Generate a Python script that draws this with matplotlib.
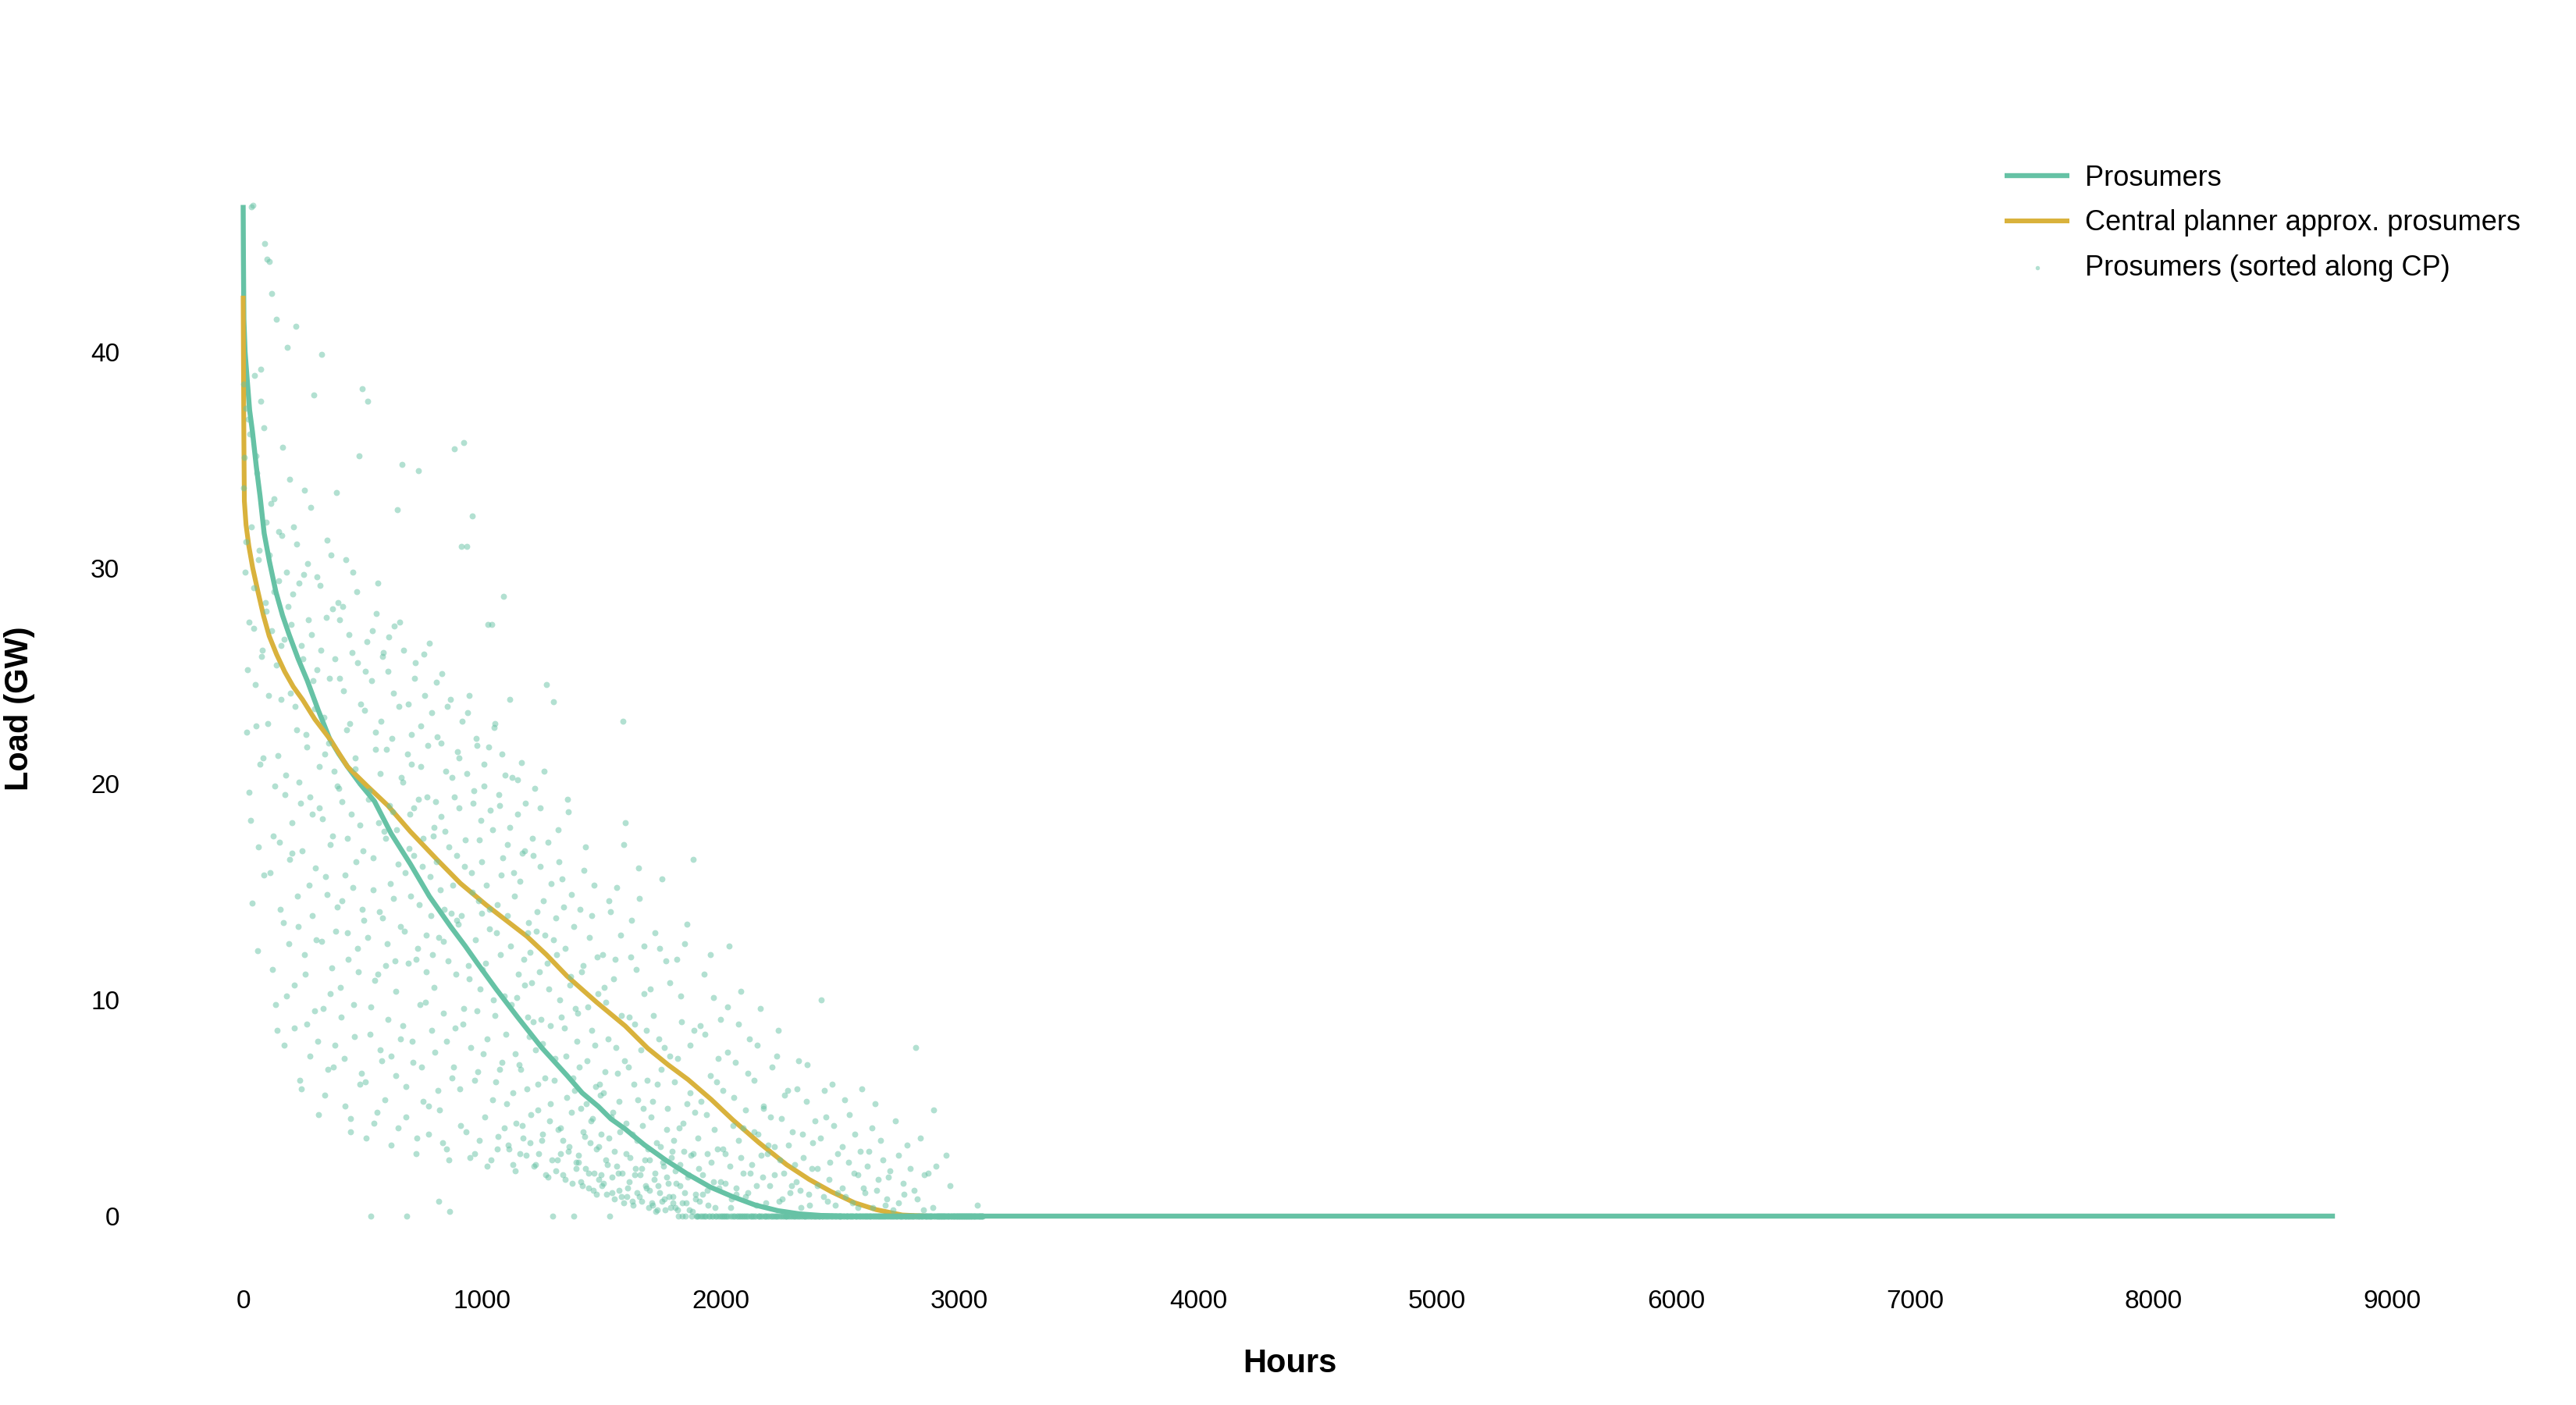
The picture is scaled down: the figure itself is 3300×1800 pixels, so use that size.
import numpy as np
import matplotlib
matplotlib.use("Agg")
import matplotlib.pyplot as plt

plt.rcParams['font.family'] = ['Liberation Sans', 'DejaVu Sans']

# ---------------- data ----------------
# Prosumers load duration curve (hours, GW)
pros_hours = [0, 1, 3, 8, 17, 27, 39, 55, 71, 88, 110, 137, 165, 193, 230, 268, 315, 362, 400,
              437, 490, 550, 620, 700, 780, 869, 930, 981, 1060, 1150, 1250, 1357, 1420, 1488,
              1540, 1600, 1680, 1770, 1860, 1957, 2050, 2145, 2240, 2332, 2420, 2520, 8760]
pros_load = [46.8, 44.5, 41.5, 40.0, 38.7, 37.3, 36.3, 34.7, 33.3, 31.6, 30.3, 28.9, 27.8, 26.9,
             25.8, 24.8, 23.4, 22.1, 21.4, 20.8, 20.0, 19.2, 17.7, 16.3, 14.8, 13.4, 12.5, 11.7,
             10.5, 9.2, 7.8, 6.5, 5.7, 5.07, 4.5, 4.03, 3.3, 2.59, 1.95, 1.34, 0.9, 0.51, 0.25,
             0.1, 0.03, 0.0, 0.0]

# Central planner approximation of prosumers (hours, GW)
cp_hours = [0, 3, 5, 12, 24, 40, 62, 85, 109, 140, 174, 210, 249, 300, 362, 437, 520, 606, 700,
            812, 910, 1018, 1100, 1188, 1270, 1357, 1480, 1600, 1694, 1780, 1863, 1960, 2051,
            2160, 2276, 2370, 2463, 2560, 2651, 2760, 2860]
cp_load = [42.6, 36.0, 33.1, 32.0, 31.0, 30.0, 28.9, 27.8, 26.85, 26.0, 25.2, 24.5, 23.9, 23.0,
           22.1, 20.8, 19.9, 19.0, 17.8, 16.5, 15.4, 14.4, 13.7, 12.95, 12.1, 11.1, 9.9, 8.8,
           7.77, 7.0, 6.32, 5.4, 4.45, 3.4, 2.38, 1.7, 1.13, 0.62, 0.3, 0.05, 0.0]

# Prosumer load (GW) along the CP ordering, sampled every 5th hour (hours 0, 5, 10, ...)
scatter_step = 5
scatter_load_a = [
    38.5, 35.1, 31.2, 22.4, 36.9, 27.5, 18.3, 46.7, 46.8, 29.1, 24.6, 35.2, 12.3, 30.4, 20.9, 37.7, 26.2, 15.8, 45.0, 28.0,
    44.3, 24.1, 44.2, 33.0, 42.7, 17.6, 28.9, 9.8, 41.5, 21.3, 31.7, 14.2, 26.4, 35.6, 7.9, 19.5, 29.8, 40.2, 12.6, 34.1,
    27.4, 16.8, 31.9, 8.7, 41.2, 22.5, 13.4, 29.3, 19.1, 5.9, 25.8, 33.6, 11.2, 21.7, 30.2, 15.3, 7.4, 26.9, 18.6, 38.0,
    23.5, 12.8, 29.6, 4.7, 18.9, 26.2, 39.9, 9.6, 21.4, 15.7, 31.3, 6.8, 24.9, 17.2, 11.5, 28.1, 20.6, 7.9, 33.5, 14.3,
    19.8, 27.6, 9.2, 14.6, 24.3, 5.1, 30.4, 17.5, 11.9, 22.8, 3.9, 26.1, 15.2, 8.3, 20.7, 28.9, 12.4, 35.2, 18.1, 6.6,
    38.3, 13.7, 25.2, 3.6, 37.7, 19.3, 8.4, 0.0, 27.1, 16.6, 10.9, 22.4, 4.8, 29.3, 14.1, 20.5, 7.2, 25.9, 17.8, 11.6,
    21.6, 9.1, 26.8, 15.4, 3.3, 18.7, 24.2, 11.8, 6.5, 32.7, 16.3, 27.5, 8.2, 34.8, 20.1, 13.2, 4.6, 0.0, 23.7, 17.0,
    14.8, 22.3, 7.1, 18.9, 25.6, 2.9, 12.4, 34.5, 9.8, 20.8, 16.2, 5.3, 24.1, 11.3, 19.4, 3.8, 26.5, 13.9, 8.6, 17.6,
    10.6, 19.2, 24.7, 5.8, 0.7, 15.1, 21.9, 3.4, 12.7, 17.8, 8.1, 23.6, 2.6, 0.2, 14.0, 20.3, 6.9, 35.5, 11.2, 16.7,
    13.5, 21.2, 4.2, 31.0, 8.9, 35.8, 17.4, 31.0, 23.3, 11.0, 2.7, 15.9, 32.4, 19.7, 6.3, 22.1, 9.5, 14.6, 3.5, 18.3,
    16.4, 7.5, 20.9, 11.7, 2.3, 27.4, 14.2, 18.8, 27.4, 5.4, 22.6, 9.3, 13.1, 3.1, 19.5, 6.8, 15.8, 21.4, 28.7, 10.2,
    8.4, 17.2, 3.3, 23.9, 12.5, 20.3, 5.7, 14.8, 2.1, 10.1, 18.6, 7.0, 15.5, 21.0, 4.2, 11.9, 16.9, 2.8, 9.2, 13.6,
    12.2, 4.7, 17.5, 9.0, 19.8, 2.4, 14.1, 6.1, 11.3, 16.2, 3.5, 8.0, 20.6, 13.0, 24.6, 1.8, 10.5, 5.2, 15.4, 0.0,
    23.8, 7.3, 13.8, 2.6, 17.9, 10.0, 4.1, 15.6, 1.9, 8.7, 12.4, 5.5, 18.7, 3.2, 11.1, 14.9, 6.4, 0.0, 9.6, 2.2,
    9.4, 2.5, 14.2, 5.0, 1.4, 11.6, 3.7, 17.1, 7.2, 2.0, 12.9, 4.4, 8.6, 1.2, 15.3, 6.0, 3.1, 10.3, 1.7, 5.6,
    3.8, 12.1, 1.5, 6.7, 9.9, 2.4, 14.6, 0.0, 4.6, 1.1, 11.0, 3.0, 7.8, 15.2, 2.0, 5.3, 13.0, 0.9, 22.9, 17.2,
    18.2, 4.3, 1.3, 9.2, 2.7, 13.7, 0.7, 6.1, 1.9, 11.4, 3.5, 16.1, 0.9, 7.7, 2.2, 5.0, 12.5, 1.4, 8.6, 3.1,
    2.6, 10.5, 0.6, 5.3, 1.7, 13.1, 3.4, 0.3, 8.2, 1.1, 6.8, 15.6, 2.3, 0.8, 11.8, 4.0, 1.5, 7.4, 0.4, 3.0,
    0.9, 6.2, 2.1, 11.9, 0.3, 4.1, 1.4, 9.0, 0.0, 3.0, 12.6, 0.6, 5.2, 1.9, 7.9, 2.8, 0.2, 16.5, 4.8, 1.0,
    0.0, 3.6, 0.7, 8.8, 0.0, 1.9, 11.2, 0.0, 4.7, 1.2, 0.0, 6.5, 2.5, 0.0, 10.1, 0.4, 0.0, 3.1, 7.3, 0.0,
    1.6, 0.0, 5.8, 0.0, 2.9, 0.0, 9.7, 12.5, 0.0, 0.8, 4.2, 0.0, 7.1, 1.3, 0.0, 3.5, 0.0, 10.4, 0.0, 2.0,
    0.0, 4.9, 0.0, 1.1, 8.2, 0.0, 2.4, 0.0, 6.3, 0.0, 0.5, 3.8, 0.0, 9.6, 0.0, 1.8, 5.1, 0.0, 0.0, 2.9,
    0.0, 1.4, 0.0, 6.9, 0.0, 3.2, 0.0, 0.0, 8.6, 0.7, 0.0, 4.5, 0.0, 2.0, 0.0, 0.0, 5.8, 0.0, 1.1, 0.0,
    3.9, 0.0, 0.0, 1.6, 0.0, 7.2, 0.0, 0.4, 0.0, 2.7, 0.0, 0.0, 5.3, 0.0, 1.0, 0.0, 0.0, 3.4, 0.0, 0.0,
    0.0, 2.2, 0.0, 0.0, 10.0, 0.0, 0.9, 0.0, 4.6, 0.0, 0.0, 1.7, 0.0, 6.1, 0.0, 0.0, 0.5, 0.0, 2.9, 0.0,
    0.0, 0.0, 1.3, 0.0, 5.4, 0.0, 0.0, 2.5, 0.0, 0.0, 0.6, 0.0, 3.8, 0.0, 0.0, 1.9, 0.0, 0.0, 5.9, 0.0,
    0.0, 1.1, 0.0, 0.0, 3.0, 0.0, 0.0, 0.4, 0.0, 5.2, 0.0, 0.0, 1.7, 0.0, 0.0, 0.0, 2.6, 0.0, 0.0, 0.8,
    0.0, 0.0, 2.1, 0.0, 0.0, 0.0, 4.4, 0.0, 0.0, 0.6, 0.0, 0.0, 0.0, 1.5, 0.0, 0.0, 3.3, 0.0, 0.0, 0.0,
    0.0, 0.0, 1.2, 7.8, 0.0, 0.0, 0.0, 3.6, 0.0, 0.0, 0.3, 0.0, 0.0, 0.0, 2.0, 0.0, 0.0, 0.0, 4.9, 0.0,
    2.3, 0.0, 0.0, 0.0, 0.0, 0.0, 0.0, 0.0, 0.0, 2.8, 0.0, 0.0, 1.4, 0.0, 0.0, 0.0, 0.0, 0.0, 0.0, 0.0,
    0.0, 0.0, 0.0, 0.0, 0.0, 0.0, 0.0, 0.0, 0.0, 0.0, 0.0, 0.0, 0.0, 0.0, 0.0, 0.5, 0.0, 0.0, 0.0, 0.0,
]
# second sample, same step, offset by 3 hours (hours 3, 8, 13, ...)
scatter_offset_b = 3
scatter_load_b = [
    33.7, 29.8, 37.4, 25.3, 19.6, 36.2, 31.9, 14.5, 27.2, 38.9, 22.7, 34.4, 17.1, 30.8, 39.2, 25.9, 21.2, 36.5, 28.4, 32.1,
    22.8, 30.6, 15.9, 27.1, 11.4, 33.2, 19.9, 25.5, 8.6, 29.4, 17.3, 23.9, 31.5, 13.6, 26.7, 20.4, 10.2, 28.2, 16.5, 24.2,
    18.2, 28.8, 10.7, 23.6, 31.1, 14.8, 20.1, 6.3, 26.4, 16.9, 29.7, 12.1, 22.3, 8.9, 27.6, 19.4, 32.8, 13.9, 24.8, 9.5,
    16.1, 25.3, 8.1, 20.8, 29.2, 12.7, 18.4, 23.1, 5.6, 27.7, 14.9, 21.9, 10.3, 30.6, 17.6, 6.9, 25.8, 13.2, 19.9, 28.4,
    24.9, 10.6, 19.2, 28.2, 7.3, 15.8, 22.5, 13.1, 26.9, 4.5, 18.6, 29.8, 9.8, 21.2, 16.4, 25.6, 11.3, 6.1, 23.7, 14.2,
    16.9, 23.4, 6.2, 26.6, 12.9, 19.7, 9.7, 24.8, 15.1, 4.3, 21.6, 27.9, 11.2, 18.2, 7.7, 22.9, 13.8, 26.1, 5.4, 17.5,
    12.6, 25.2, 19.0, 7.4, 22.1, 14.7, 27.3, 10.4, 17.9, 4.1, 23.6, 13.4, 20.3, 8.8, 26.2, 15.9, 6.0, 21.4, 11.7, 18.6,
    20.9, 8.1, 16.7, 24.9, 11.9, 3.6, 19.3, 14.4, 22.7, 6.9, 17.5, 26.0, 9.9, 13.0, 21.8, 5.1, 15.7, 23.3, 12.1, 18.0,
    7.6, 16.4, 22.2, 12.9, 4.9, 18.5, 25.1, 9.4, 14.2, 20.6, 3.1, 11.8, 17.1, 23.9, 6.4, 15.3, 19.4, 8.7, 13.7, 21.5,
    18.9, 5.9, 13.9, 22.9, 9.6, 16.2, 3.9, 20.5, 11.6, 24.1, 7.8, 15.0, 19.1, 2.9, 12.8, 21.8, 6.7, 17.4, 10.5, 14.0,
    11.4, 19.9, 4.6, 15.3, 8.2, 21.7, 13.3, 2.6, 17.9, 10.0, 22.8, 6.2, 14.4, 3.7, 19.0, 12.1, 7.1, 16.6, 4.1, 20.4,
    5.2, 13.9, 3.1, 18.0, 9.8, 2.4, 15.9, 7.5, 4.3, 20.2, 11.2, 2.9, 6.8, 16.8, 3.6, 10.7, 19.1, 5.9, 13.1, 8.3,
    3.4, 10.8, 16.7, 2.3, 7.7, 13.2, 4.9, 2.9, 18.9, 9.1, 3.8, 14.6, 6.4, 1.9, 11.7, 17.3, 4.4, 8.8, 2.6, 12.8,
    6.3, 2.1, 12.1, 4.0, 16.4, 2.9, 9.2, 3.5, 14.3, 1.7, 7.4, 19.3, 3.0, 10.7, 4.8, 1.5, 13.4, 5.8, 2.5, 8.1,
    2.8, 6.9, 1.6, 11.3, 3.9, 16.0, 2.2, 5.2, 9.7, 1.3, 3.4, 13.9, 4.5, 2.0, 7.9, 1.0, 12.0, 3.2, 6.1, 1.9,
    1.4, 5.7, 10.6, 2.6, 1.0, 8.2, 3.6, 14.1, 1.8, 4.8, 0.8, 11.9, 2.3, 6.6, 1.2, 3.9, 9.3, 2.0, 0.6, 7.2,
    2.9, 0.9, 6.9, 1.6, 12.0, 3.8, 0.5, 8.9, 2.2, 1.1, 5.4, 14.7, 1.9, 0.7, 4.2, 10.3, 2.6, 1.3, 6.3, 0.4,
    1.2, 4.6, 0.5, 9.3, 2.0, 0.2, 6.1, 1.4, 12.4, 3.2, 0.7, 2.5, 7.8, 0.3, 1.8, 5.0, 0.9, 10.8, 2.7, 0.6,
    3.5, 0.4, 1.5, 7.3, 0.0, 2.4, 10.2, 0.6, 4.3, 1.1, 0.0, 13.5, 1.8, 0.3, 5.7, 0.0, 2.9, 8.6, 0.8, 0.0,
    0.0, 2.2, 0.0, 5.3, 1.0, 0.0, 8.4, 0.0, 2.9, 0.5, 0.0, 12.1, 0.0, 1.6, 4.0, 0.0, 6.2, 0.0, 1.3, 9.1,
    0.0, 3.1, 0.0, 1.5, 0.0, 7.6, 0.0, 2.3, 0.4, 0.0, 5.5, 0.0, 1.0, 0.0, 8.9, 0.0, 2.7, 0.0, 4.1, 0.0,
    0.9, 0.0, 6.6, 0.0, 2.0, 0.0, 0.0, 3.9, 0.0, 1.4, 7.9, 0.0, 0.0, 2.8, 0.0, 5.0, 0.0, 0.6, 0.0, 3.3,
    0.0, 4.6, 0.0, 0.0, 1.9, 0.0, 7.4, 0.0, 0.0, 2.6, 0.0, 0.8, 0.0, 5.6, 0.0, 0.0, 3.3, 0.0, 0.0, 1.4,
    0.0, 2.4, 0.0, 5.9, 0.0, 0.0, 1.2, 0.0, 3.8, 0.0, 0.0, 0.0, 7.0, 0.0, 0.5, 0.0, 2.2, 0.0, 4.4, 0.0,
    1.4, 0.0, 0.0, 3.6, 0.0, 0.0, 5.8, 0.0, 0.0, 0.7, 0.0, 2.5, 0.0, 0.0, 4.2, 0.0, 0.0, 1.1, 0.0, 0.0,
    0.0, 3.2, 0.0, 0.0, 0.9, 0.0, 0.0, 4.7, 0.0, 0.0, 0.0, 2.0, 0.0, 0.0, 0.4, 0.0, 3.0, 0.0, 0.0, 1.3,
    0.0, 0.0, 2.3, 0.0, 0.0, 0.0, 4.1, 0.0, 0.0, 0.0, 1.2, 0.0, 0.0, 3.5, 0.0, 0.0, 0.0, 0.5, 0.0, 0.0,
    1.8, 0.0, 0.0, 0.0, 0.3, 0.0, 0.0, 0.0, 2.8, 0.0, 0.0, 0.0, 0.0, 1.0, 0.0, 0.0, 0.0, 0.0, 2.2, 0.0,
    0.0, 0.0, 0.0, 0.0, 0.8, 0.0, 0.0, 0.0, 0.0, 0.0, 1.9, 0.0, 0.0, 0.0, 0.0, 0.0, 0.0, 0.4, 0.0, 0.0,
    0.0, 0.0, 0.0, 0.0, 0.0, 0.0, 0.0, 0.0, 0.0, 0.0, 0.0, 0.0, 0.0, 0.0, 0.0, 0.0, 0.0, 0.0, 0.0, 0.0,
    0.0, 0.0, 0.0, 0.0, 0.0, 0.0, 0.0, 0.0, 0.0, 0.0, 0.0, 0.0, 0.0, 0.0, 0.0, 0.0, 0.0, 0.0, 0.0, 0.0,
]
scatter_hours = np.concatenate([np.arange(len(scatter_load_a)) * scatter_step,
                                np.arange(len(scatter_load_b)) * scatter_step + scatter_offset_b])
scatter_load = np.concatenate([scatter_load_a, scatter_load_b])

x_ticks = [0, 1000, 2000, 3000, 4000, 5000, 6000, 7000, 8000, 9000]
y_ticks = [0, 10, 20, 30, 40]

labels = ["Prosumers", "Central planner approx. prosumers", "Prosumers (sorted along CP)"]
GREEN = "#66c2a5"
GOLD = "#d9b23c"

# ---------------- figure ----------------
W, H = 3300, 1800
DPI = 200
fig = plt.figure(figsize=(W / DPI, H / DPI), dpi=DPI, facecolor="white")

# axes placed so that x=0 -> 311.5px, 1000h = 305.9px ; y=0 -> 1558px, 10GW = 276.8px
xmin, xmax = -300, 9300
ymin, ymax = -2.0, 48.0
px0, pxk = 311.5, 305.9 / 1000
py0, pyk = 1558.0, 27.68
left = px0 + (xmin - 0) * pxk
right = px0 + (xmax - 0) * pxk
bottom = py0 - ymin * pyk
top = py0 - ymax * pyk
ax = fig.add_axes([left / W, 1 - bottom / H, (right - left) / W, (bottom - top) / H])
ax.set_xlim(xmin, xmax)
ax.set_ylim(ymin, ymax)

l1, = ax.plot(pros_hours, pros_load, color=GREEN, lw=2.3, solid_capstyle="butt", zorder=2)
l2, = ax.plot(cp_hours, cp_load, color=GOLD, lw=2.2, solid_capstyle="butt", zorder=3)
sc = ax.scatter(scatter_hours, scatter_load, s=8.0, color=GREEN, alpha=0.5,
                linewidths=0, zorder=4)

for sp in ax.spines.values():
    sp.set_visible(False)
ax.set_xticks(x_ticks)
ax.set_yticks(y_ticks)
ax.set_xticklabels([str(v) for v in x_ticks], fontsize=12)
ax.set_yticklabels([str(v) for v in y_ticks], fontsize=12)
ax.tick_params(axis="x", length=0, pad=14)
ax.tick_params(axis="y", length=0, pad=24)
ax.grid(False)

fig.text(1652 / W, 1 - 1747 / H, "Hours", fontsize=15, fontweight="bold",
         ha="center", va="center")
fig.text(25 / W, 1 - 908 / H, "Load (GW)", fontsize=15, fontweight="bold",
         ha="center", va="center", rotation=90)

leg = ax.legend([l1, l2, sc], labels, loc="upper left",
                bbox_to_anchor=(2568 / W, 1 - 211 / H), bbox_transform=fig.transFigure,
                frameon=False, fontsize=13, borderpad=0, borderaxespad=0,
                handlelength=2.3, handletextpad=0.55, labelspacing=0.62,
                scatterpoints=1, markerscale=0.7)

fig.savefig("out.png", dpi=DPI, facecolor="white")
